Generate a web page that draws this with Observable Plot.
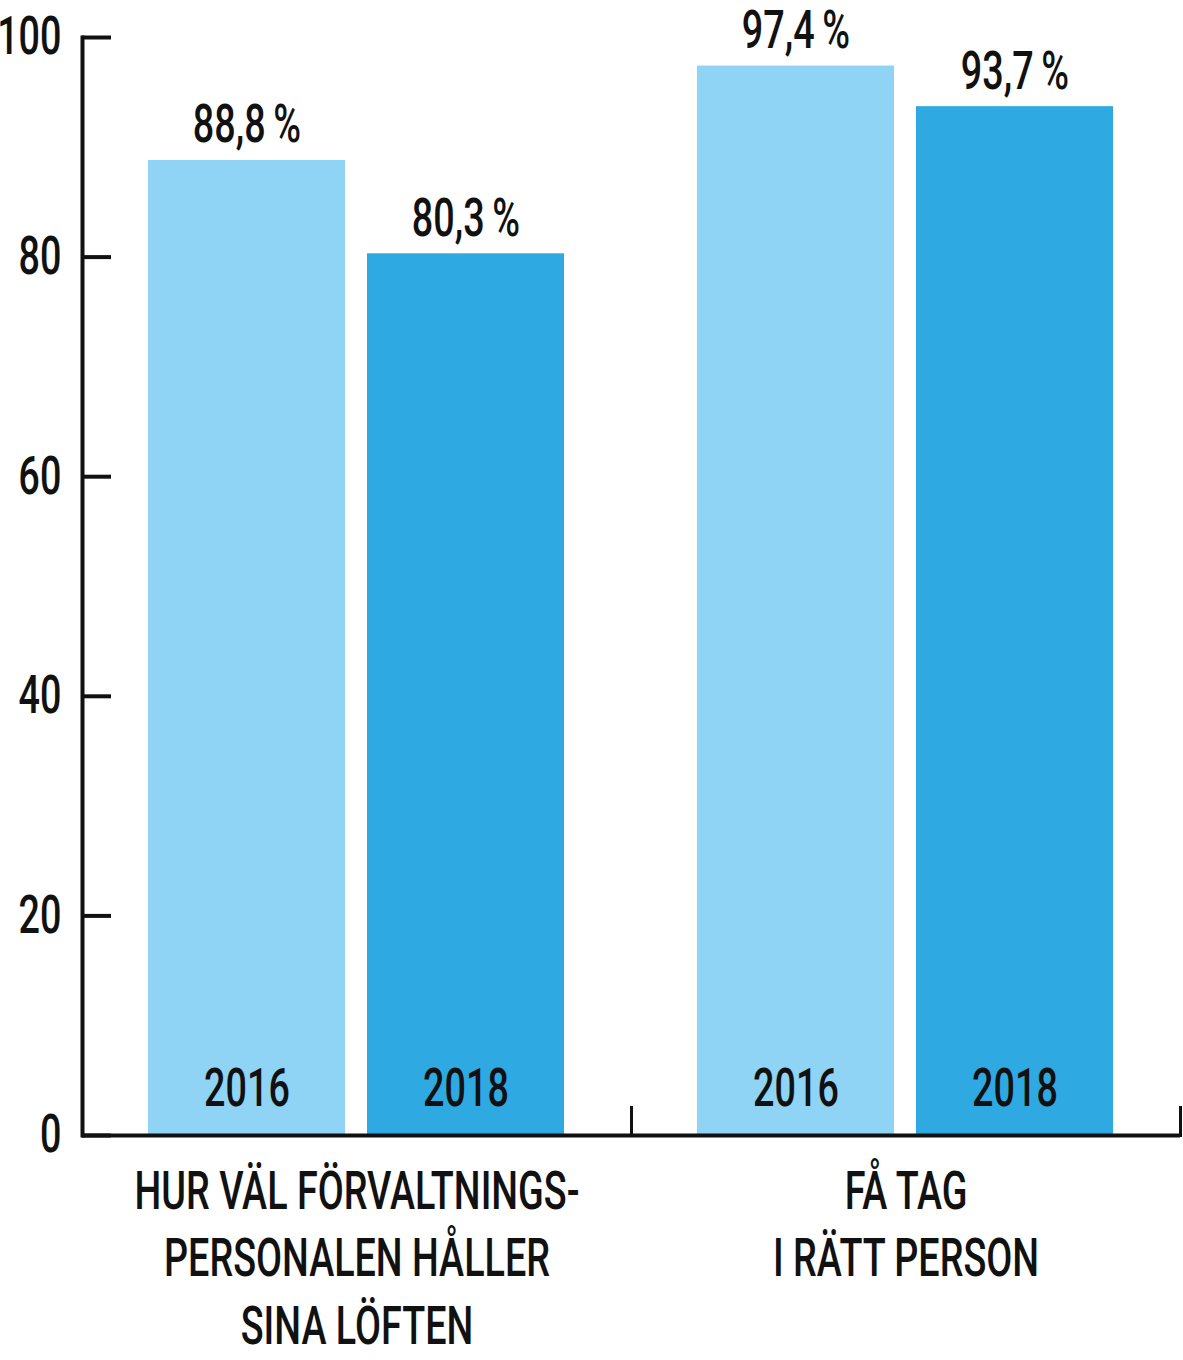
<!DOCTYPE html>
<html>
<head>
<meta charset="utf-8">
<script src="https://cdn.jsdelivr.net/npm/d3@7"></script>
<script src="https://cdn.jsdelivr.net/npm/@observablehq/plot@0.6"></script>
<style>
  html, body { margin: 0; padding: 0; background: #fff; }
  #chart { width: 1183px; height: 1360px; }
</style>
</head>
<body>
<div id="chart"></div>
<script>
// ---- data ----
const groups = ["HUR VÄL FÖRVALTNINGS-\nPERSONALEN HÅLLER\nSINA LÖFTEN", "FÅ TAG\nI RÄTT PERSON"];
const years = ["2016", "2018"];
const values2016 = [88.8, 97.4];
const values2018 = [80.3, 93.7];
const yTicks = [0, 20, 40, 60, 80, 100];
const colors = ["#8FD3F5", "#2EA9E1"];

const data = [];
groups.forEach((g, i) => {
  data.push({group: g, year: years[0], value: values2016[i]});
  data.push({group: g, year: years[1], value: values2018[i]});
});
const fmt = v => v.toFixed(1).replace(".", ",") + "\u2009%";

const ink = "#111";
const chart = Plot.plot({
  width: 1183,
  height: 1360,
  marginLeft: 81,
  marginRight: 3,
  marginTop: 37,
  marginBottom: 225,
  style: {fontFamily: "Roboto, 'Liberation Sans', sans-serif", fontWeight: 500, fontSize: "53px", color: ink, background: "#fff"},
  fx: {domain: groups, padding: 0, label: null},
  x: {domain: years, paddingInner: 0.1, paddingOuter: 0.3, axis: null},
  y: {domain: [0, 100], axis: null},
  color: {domain: years, range: colors},
  marks: [
    Plot.barY(data, {fx: "group", x: "year", y: "value", fill: "year"}),
    Plot.text(data, {fx: "group", x: "year", y: "value", text: d => fmt(d.value), lineAnchor: "bottom", dy: -18, fill: ink}),
    Plot.text(data, {fx: "group", x: "year", y: () => 0, text: "year", lineAnchor: "bottom", dy: -30, fill: ink}),
    Plot.ruleY([0], {stroke: ink, strokeWidth: 4}),
    Plot.frame({anchor: "left", facetAnchor: "left", stroke: ink, strokeWidth: 4}),
    Plot.frame({anchor: "right", stroke: ink, strokeWidth: 3, insetTop: 1070}),
    Plot.axisY({ticks: yTicks, tickSize: 0, tickPadding: 21, label: null, tickFormat: d => String(d), fill: ink}),
    Plot.axisY({ticks: yTicks, tickSize: -29, text: null, label: null, stroke: ink, strokeWidth: 4}),
    Plot.axisFx({anchor: "bottom", tickSize: 0, tickPadding: 25, lineHeight: 1.28, label: null, fill: ink})
  ]
});

document.getElementById("chart").appendChild(chart);

// condense all text horizontally (the original uses a condensed typeface):
// scale so the first category line is as wide as in the original
let S = 0.75;
const probe = Array.from(chart.querySelectorAll("tspan")).find(t => t.textContent === "HUR VÄL FÖRVALTNINGS-");
if (probe && probe.getComputedTextLength) {
  const len = probe.getComputedTextLength();
  if (len > 0) S = 445 / len;
}
chart.querySelectorAll("text").forEach(t => {
  const x = +(t.getAttribute("x") || 0);
  const tr = t.getAttribute("transform") || "";
  t.setAttribute("transform", `${tr} translate(${x},0) scale(${S},1) translate(${-x},0)`);
});
</script>
</body>
</html>
